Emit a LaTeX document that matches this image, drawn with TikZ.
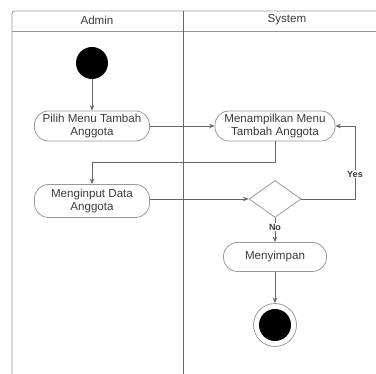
\documentclass[tikz,border=0pt]{standalone}
\usepackage{fontspec}
\setmainfont{Liberation Sans}
\usetikzlibrary{shapes.geometric,arrows.meta}
\definecolor{txt}{HTML}{3A3A3A}
\definecolor{ln}{HTML}{666666}
\definecolor{frm}{HTML}{999999}
\begin{document}
\begin{tikzpicture}[x=1pt,y=-1pt,
  lbl/.style={font=\fontsize{11.6}{13.6}\selectfont, text=txt},
  act/.style={lbl, draw=frm, line width=0.8pt, rounded corners=14pt, minimum height=30pt, align=center, inner sep=1pt},
  flow/.style={draw=ln, line width=0.8pt, -{Stealth[length=5.5pt,width=4.5pt]}},
  dec/.style={diamond, draw=frm, line width=0.8pt, minimum width=52pt, minimum height=37pt, inner sep=0pt},
  tag/.style={font=\bfseries\fontsize{9}{10}\selectfont, text=txt, fill=white, inner sep=1pt}]
\useasboundingbox (0,0) rectangle (376,374);
% swimlane frame
\draw[frm, line width=0.8pt, rounded corners=3pt] (12,374) -- (12,11) -- (380,11);
\draw[frm, line width=0.8pt] (12,31) -- (380,31);
\draw[ln, line width=0.8pt] (183,11) -- (183,374);
\node[lbl] (hA) at (97,20) {Admin};
\node[lbl] (hS) at (287,20) {System};
% nodes
\node[circle, fill=black, minimum size=32pt, inner sep=0pt] (start) at (92,63) {};
\node[act, minimum width=115pt] (a1) at (92,126) {Pilih Menu Tambah\\Anggota};
\node[act, minimum width=120pt] (a2) at (275,126) {Menampilkan Menu\\Tambah Anggota};
\node[act, minimum width=115pt, minimum height=33pt] (a3) at (92,201) {Menginput Data\\Anggota};
\node[dec] (d) at (275,199) {};
\node[act, minimum width=103pt, minimum height=29pt] (a4) at (275,257) {Menyimpan};
\node[circle, draw=frm, line width=0.8pt, fill=white, minimum size=43pt, inner sep=0pt] (end) at (275,325) {};
\node[circle, fill=black, minimum size=32pt, inner sep=0pt] (endin) at (end.center) {};
\coordinate (k1) at (275,162);
\coordinate (k2) at (92,162);
\coordinate (y2) at (355,126);
% connectors
\draw[flow] (start) -- (a1);
\draw[flow] (a1) -- (a2);
\draw[flow] (a2.south) -- (k1) -- (k2) -- (a3.north);
\draw[flow] (a3.east |- d.west) -- (d.west);
\draw[flow] (d.east) -- (d.east -| y2) -- (y2) -- (a2.east);
\draw[flow] (d.south) -- (a4.north);
\draw[flow] (a4) -- (end);
\node[tag] (yes) at (355,174) {Yes};
\node[tag] (no) at (275,227) {No};
\end{tikzpicture}
\end{document}
